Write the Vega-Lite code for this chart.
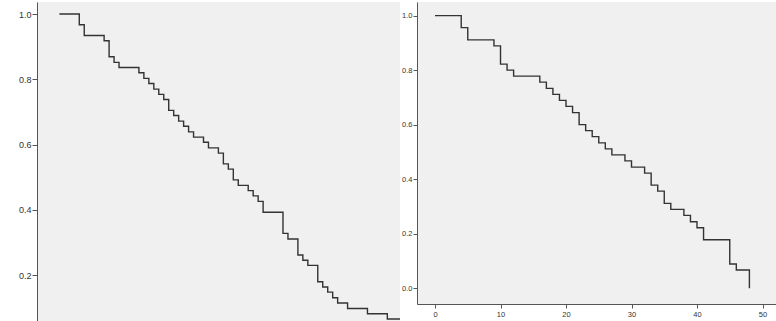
{
  "$schema": "https://vega.github.io/schema/vega-lite/v6.json",
  "padding": {"left": 18, "top": 2, "right": 0, "bottom": 0},
  "background": "white",
  "spacing": 1,
  "config": {
    "view": {"fill": "#f0f0f0", "stroke": null},
    "axis": {"domainColor": "#555", "tickColor": "#555", "labelColor": "#333", "labelFont": "Liberation Sans", "grid": false, "title": null, "domainWidth": 1, "tickWidth": 1}
  },
  "datasets": {
    "left": [{"t":0,"s":1},{"t":4,"s":0.967},{"t":5,"s":0.934},{"t":9,"s":0.918},{"t":10,"s":0.869},{"t":11,"s":0.852},{"t":12,"s":0.836},{"t":16,"s":0.820},{"t":17,"s":0.803},{"t":18,"s":0.787},{"t":19,"s":0.770},{"t":20,"s":0.754},{"t":21,"s":0.738},{"t":22,"s":0.705},{"t":23,"s":0.689},{"t":24,"s":0.672},{"t":25,"s":0.656},{"t":26,"s":0.639},{"t":27,"s":0.623},{"t":29,"s":0.607},{"t":30,"s":0.590},{"t":32,"s":0.574},{"t":33,"s":0.541},{"t":34,"s":0.525},{"t":35,"s":0.492},{"t":36,"s":0.475},{"t":38,"s":0.459},{"t":39,"s":0.443},{"t":40,"s":0.426},{"t":41,"s":0.393},{"t":45,"s":0.328},{"t":46,"s":0.311},{"t":48,"s":0.262},{"t":49,"s":0.246},{"t":50,"s":0.230},{"t":52,"s":0.180},{"t":53,"s":0.164},{"t":54,"s":0.148},{"t":55,"s":0.131},{"t":56,"s":0.115},{"t":58,"s":0.098},{"t":62,"s":0.082},{"t":66,"s":0.066},{"t":70,"s":0.066}],
    "right": [{"t":0,"s":1},{"t":4,"s":0.956},{"t":5,"s":0.911},{"t":9,"s":0.889},{"t":10,"s":0.822},{"t":11,"s":0.8},{"t":12,"s":0.778},{"t":16,"s":0.756},{"t":17,"s":0.733},{"t":18,"s":0.711},{"t":19,"s":0.689},{"t":20,"s":0.667},{"t":21,"s":0.644},{"t":22,"s":0.6},{"t":23,"s":0.578},{"t":24,"s":0.556},{"t":25,"s":0.533},{"t":26,"s":0.511},{"t":27,"s":0.489},{"t":29,"s":0.467},{"t":30,"s":0.444},{"t":32,"s":0.422},{"t":33,"s":0.378},{"t":34,"s":0.356},{"t":35,"s":0.311},{"t":36,"s":0.289},{"t":38,"s":0.267},{"t":39,"s":0.244},{"t":40,"s":0.222},{"t":41,"s":0.178},{"t":45,"s":0.089},{"t":46,"s":0.067},{"t":48,"s":0}]
  },
  "hconcat": [
    {
      "width": 363,
      "height": 319,
      "data": {"name": "left"},
      "mark": {"type": "line", "interpolate": "step-after", "clip": true, "color": "#333", "strokeWidth": 1.4},
      "encoding": {
        "x": {"field": "t", "type": "quantitative", "scale": {"domain": [-4.51, 68.55], "nice": false, "zero": false}, "axis": null},
        "y": {"field": "s", "type": "quantitative", "scale": {"domain": [0.0597, 1.0368], "nice": false, "zero": false},
              "axis": {"values": [0.2, 0.4, 0.6, 0.8, 1.0], "format": ".1f", "labelFontSize": 9, "tickSize": 5, "labelPadding": 1}}
      }
    },
    {
      "width": 359,
      "height": 302,
      "data": {"name": "right"},
      "mark": {"type": "line", "interpolate": "step-after", "clip": true, "color": "#333", "strokeWidth": 1.4},
      "encoding": {
        "x": {"field": "t", "type": "quantitative", "scale": {"domain": [-2.75, 52.06], "nice": false, "zero": false},
              "axis": {"values": [0, 10, 20, 30, 40, 50], "format": "d", "labelFontSize": 7.5, "tickSize": 4, "labelPadding": 2}},
        "y": {"field": "s", "type": "quantitative", "scale": {"domain": [-0.058, 1.050], "nice": false, "zero": false},
              "axis": {"values": [0, 0.2, 0.4, 0.6, 0.8, 1.0], "format": ".1f", "labelFontSize": 7.5, "tickSize": 4, "labelPadding": 1}}
      }
    }
  ]
}
